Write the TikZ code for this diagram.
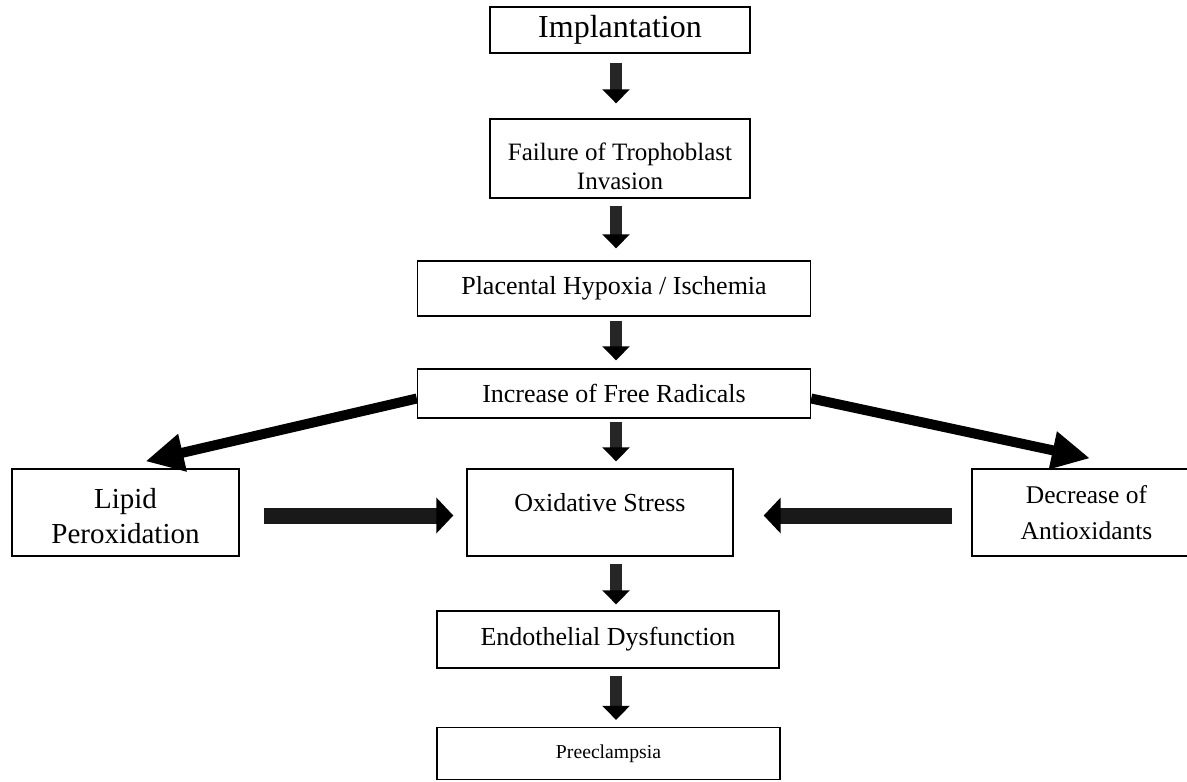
\documentclass[tikz,border=0pt]{standalone}
\usepackage{fontspec}
\setmainfont{Liberation Serif}
\usetikzlibrary{arrows.meta}
\tikzset{
	stage/.style = {rectangle, draw=black, line width=1.4pt, inner sep=0pt,
		align=center, font=\fontsize{26}{30}\selectfont},
	downarrow/.style = {line width=12pt, draw=black!85, -{Triangle[length=14pt, width=27pt, color=black]}},
	sidearrow/.style = {line width=16pt, draw=black!90, -{Triangle[length=17pt, width=35pt, color=black]}},
	bigarrow/.style = {line width=10pt, draw=black, -{Triangle[length=38pt, width=36pt]}}
}

\begin{document}
\begin{tikzpicture}[x=1pt, y=-1pt]
\useasboundingbox (0,0) rectangle (1187,782);
% Placement of the stages
\node (implant) [stage, minimum width=260pt, minimum height=46pt, font=\fontsize{32}{36}\selectfont] at (620,30) {Implantation};
\node (failure) [stage, minimum width=260pt, minimum height=79pt, font=\fontsize{25}{29}\selectfont] at (620,158.5) {\rule{0pt}{34pt}Failure of Trophoblast\\Invasion};
\node (placental) [stage, minimum width=393pt, minimum height=55pt] at (614,288.5) {Placental Hypoxia / Ischemia};
\node (free) [stage, minimum width=393pt, minimum height=49pt] at (614,393.5) {Increase of Free Radicals};

\node (lipid) [stage, minimum width=227pt, minimum height=87pt, font=\fontsize{29}{35}\selectfont] at (125.5,512.5) {\rule{0pt}{28pt}Lipid\\Peroxidation};
\node (oxid) [stage, minimum width=266pt, minimum height=87pt, text depth=21pt] at (600,512.5) {Oxidative Stress};
\node (decrease) [stage, minimum width=229pt, minimum height=87pt, font=\fontsize{25.5}{36}\selectfont] at (1086.5,512.5) {Decrease of\\Antioxidants};

\node (endo) [stage, minimum width=342pt, minimum height=57pt] at (608,639.5) {Endothelial Dysfunction};
\node (pre) [stage, minimum width=343pt, minimum height=52pt, font=\fontsize{19.7}{23}\selectfont] at (608.5,753.5) {Preeclampsia};

% Arrows of the main column
\draw [downarrow] ([xshift=-4pt,yshift=-9pt]implant.south) -- ([xshift=-4pt,yshift=15pt]failure.north);
\draw [downarrow] ([xshift=-4pt,yshift=-7pt]failure.south) -- ([xshift=2pt,yshift=12pt]placental.north);
\draw [downarrow] ([xshift=2pt,yshift=-4pt]placental.south) -- ([xshift=2pt,yshift=8pt]free.north);
\draw [downarrow] ([xshift=2pt,yshift=-3pt]free.south) -- ([xshift=16pt,yshift=7pt]oxid.north);
\draw [downarrow] ([xshift=16pt,yshift=-7pt]oxid.south) -- ([xshift=8pt,yshift=6pt]endo.north);
\draw [downarrow] ([xshift=8pt,yshift=-7pt]endo.south) -- ([xshift=7.5pt,yshift=7pt]pre.north);

% Branches
\draw [bigarrow] ([yshift=-5pt]free.west) -- ([xshift=20pt,yshift=7pt]lipid.north);
\draw [bigarrow] ([yshift=-5pt]free.east) -- ([xshift=3.5pt,yshift=10pt]decrease.north);
\draw [sidearrow] ([xshift=24pt,yshift=-3pt]lipid.east) -- ([xshift=-13pt,yshift=-3pt]oxid.west);
\draw [sidearrow] ([xshift=-19pt,yshift=-3pt]decrease.west) -- ([xshift=30pt,yshift=-3pt]oxid.east);

\end{tikzpicture}
\end{document}
